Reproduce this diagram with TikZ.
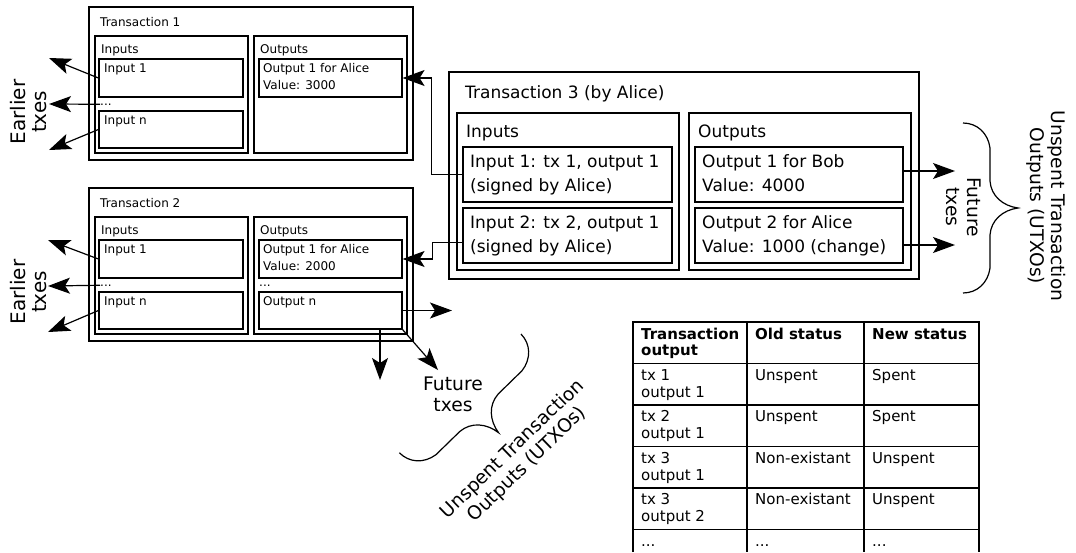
\documentclass[tikz,border=0pt]{standalone}
\usepackage{fontspec}
\setmainfont{DejaVu Sans}
\usetikzlibrary{arrows.meta,fit,calc}

\tikzset{
  box/.style={draw, line width=1.2pt, inner sep=0pt, fit={#1}},
  txs/.style={font=\fontsize{12}{14}\selectfont, inner sep=0pt, anchor=base west},
  txb/.style={font=\fontsize{17}{20}\selectfont, inner sep=0pt, anchor=base west},
  txt/.style={font=\fontsize{15}{17}\selectfont, inner sep=0pt, anchor=base west},
  txh/.style={font=\fontsize{15}{17}\selectfont\bfseries, inner sep=0pt, anchor=base west},
  lbl/.style={font=\fontsize{18.7}{21}\selectfont, align=center, inner sep=0pt},
  lblbig/.style={font=\fontsize{20}{21}\selectfont, align=center, inner sep=0pt},
  arr/.style={-{Stealth[length=22pt,width=16pt,inset=5pt]}, line width=1.2pt},
  rule/.style={line width=1.2pt},
  curly/.style={line width=1.2pt}
}

\begin{document}
\begin{tikzpicture}[x=1pt,y=-1pt]
\useasboundingbox (0,0) rectangle (1076,552);

% ---------- Transaction 1 ----------
\node[box={(89,7) (413,160)}] (t1) {};
\node[box={(95,36) (248,153)}] (t1in) {};
\node[box={(254,36) (407,153)}] (t1out) {};
\node[box={(99,59) (243,97)}] (t1in1) {};
\node[box={(99,111) (243,148)}] (t1inn) {};
\node[box={(259,59) (402,97)}] (t1out1) {};
\node[txs] (t1title) at (100,26) {Transaction 1};
\node[txs] (t1inl) at (101,53) {Inputs};
\node[txs] (t1outl) at (260,53) {Outputs};
\node[txs] (t1in1l) at (104,72) {Input 1};
\node[txs] (t1dots) at (100,105) {...};
\node[txs] (t1innl) at (104,124) {Input n};
\node[txs] (t1out1a) at (263,72) {Output 1 for Alice};
\node[txs] (t1out1b) at (263,89) {Value: 3000};

% ---------- Transaction 2 ----------
\node[box={(89,188) (413,341)}] (t2) {};
\node[box={(95,217) (248,334)}] (t2in) {};
\node[box={(254,217) (407,334)}] (t2out) {};
\node[box={(99,240) (243,278)}] (t2in1) {};
\node[box={(99,292) (243,329)}] (t2inn) {};
\node[box={(259,240) (402,278)}] (t2out1) {};
\node[box={(259,292) (402,329)}] (t2outn) {};
\node[txs] (t2title) at (100,207) {Transaction 2};
\node[txs] (t2inl) at (101,234) {Inputs};
\node[txs] (t2outl) at (260,234) {Outputs};
\node[txs] (t2in1l) at (104,253) {Input 1};
\node[txs] (t2dots) at (100,286) {...};
\node[txs] (t2innl) at (104,305) {Input n};
\node[txs] (t2out1a) at (263,253) {Output 1 for Alice};
\node[txs] (t2out1b) at (263,270) {Value: 2000};
\node[txs] (t2odots) at (259,286) {...};
\node[txs] (t2outnl) at (263,305) {Output n};

% ---------- Transaction 3 ----------
\node[box={(449,72) (919,279)}] (t3) {};
\node[box={(457,113) (679,270)}] (t3in) {};
\node[box={(689,113) (911,270)}] (t3out) {};
\node[box={(463,147) (672,202)}] (t3in1) {};
\node[box={(463,208) (672,263)}] (t3in2) {};
\node[box={(695,147) (903,202)}] (t3out1) {};
\node[box={(695,208) (903,263)}] (t3out2) {};
\node[txb] (t3title) at (465,98) {Transaction 3 (by Alice)};
\node[txb] (t3inl) at (466,137) {Inputs};
\node[txb] (t3outl) at (698,137) {Outputs};
\node[txb] (t3in1a) at (470,167) {Input 1: tx 1, output 1};
\node[txb] (t3in1b) at (470,191) {(signed by Alice)};
\node[txb] (t3in2a) at (470,228) {Input 2: tx 2, output 1};
\node[txb] (t3in2b) at (470,252) {(signed by Alice)};
\node[txb] (t3out1a) at (702,167) {Output 1 for Bob};
\node[txb] (t3out1b) at (702,191) {Value: 4000};
\node[txb] (t3out2a) at (702,228) {Output 2 for Alice};
\node[txb] (t3out2b) at (702,252) {Value: 1000 (change)};

% ---------- free ends of the arrows ----------
\coordinate (e1a) at (49,58);
\coordinate (e1b) at (49,104);
\coordinate (e1c) at (49,150);
\coordinate (e2a) at (48,240);
\coordinate (e2b) at (48,286);
\coordinate (e2c) at (48,332);
\coordinate (f1) at (955,171);
\coordinate (f2) at (955,245);
\coordinate (fn1) at (452,310.5);
\coordinate (fn2) at (380,380);
\coordinate (fn3) at (438,370);

% ---------- arrows ----------
\draw[arr] (t1in1.west) -- (e1a);
\draw[arr] (t1dots.west) -- (e1b);
\draw[arr] (t1inn.west) -- (e1c);
\draw[arr] (t2in1.west) -- (e2a);
\draw[arr] (t2dots.west) -- (e2b);
\draw[arr] (t2inn.west) -- (e2c);

\draw[arr] (t3in1.west) -- ++(-31,0) |- (t1out1.east);
\draw[arr] ($(t3in2.south west)+(0,-21)$) -- ++(-30,0) |- (t2out1.east);

\draw[arr] (f1 -| t3out1.east) -- (f1);
\draw[arr] (f2 -| t3out2.east) -- (f2);

\draw[arr] (t2outn.east) -- (fn1);
\draw[arr] (fn2 |- t2outn.south) -- (fn2);
\draw[arr] (t2outn.south east) -- (fn3);

% ---------- labels ----------
\node[lblbig, rotate=90] (earl1) at (29,112) {Earlier\\txes};
\node[lblbig, rotate=90] (earl2) at (29,292) {Earlier\\txes};
\node[lbl, rotate=-90] (fut1) at (964,207) {Future\\txes};
\node[lbl, rotate=-90] (utx1) at (1046,206) {Unspent Transaction\\Outputs (UTXOs)};
\node[lbl] (fut2) at (453,394) {Future\\txes};
\node[lbl, rotate=44] (utx2) at (520,457) {Unspent Transaction\\Outputs (UTXOs)};

% ---------- curly braces ----------
\begin{scope}[shift={(963,123)}, y=1pt, rotate=-90]
  \draw[curly] (0,0) .. controls (0,14) and (10,25) .. (25,27) -- (58,27)
    .. controls (73,28) and (83,40) .. (85,55)
    .. controls (87,40) and (97,28) .. (112,27) -- (145,27)
    .. controls (160,25) and (170,14) .. (170,0);
\end{scope}
\begin{scope}[shift={(521,334)}, y=1pt, rotate=-135.7]
  \draw[curly] (0,0) .. controls (0,14) and (10,25) .. (25,27) -- (58,27)
    .. controls (73,28) and (83,40) .. (85,55)
    .. controls (87,40) and (97,28) .. (112,27) -- (145,27)
    .. controls (160,25) and (170,14) .. (170,0);
\end{scope}

% ---------- status table ----------
\draw[rule] (633,552) -- (633,322) -- (979,322) -- (979,552);
\draw[rule] (747,322) -- (747,552);
\draw[rule] (864,322) -- (864,552);
\foreach \r in {363.5,405,446.5,488,529.5}
  \draw[rule] (633,\r) -- (979,\r);

\node[txh] (h1a) at (641,339) {Transaction};
\node[txh] (h1b) at (641,355) {output};
\node[txh] (h2) at (755,339) {Old status};
\node[txh] (h3) at (872,339) {New status};

\node[txt] (r1a) at (641,380) {tx 1};
\node[txt] (r1b) at (641,397) {output 1};
\node[txt] (r1c) at (755,380) {Unspent};
\node[txt] (r1d) at (872,380) {Spent};

\node[txt] (r2a) at (641,421.5) {tx 2};
\node[txt] (r2b) at (641,438.5) {output 1};
\node[txt] (r2c) at (755,421.5) {Unspent};
\node[txt] (r2d) at (872,421.5) {Spent};

\node[txt] (r3a) at (641,463) {tx 3};
\node[txt] (r3b) at (641,480) {output 1};
\node[txt] (r3c) at (755,463) {Non-existant};
\node[txt] (r3d) at (872,463) {Unspent};

\node[txt] (r4a) at (641,504.5) {tx 3};
\node[txt] (r4b) at (641,521.5) {output 2};
\node[txt] (r4c) at (755,504.5) {Non-existant};
\node[txt] (r4d) at (872,504.5) {Unspent};

\node[txt] (r5a) at (641,546) {...};
\node[txt] (r5b) at (755,546) {...};
\node[txt] (r5c) at (872,546) {...};
\end{tikzpicture}
\end{document}
